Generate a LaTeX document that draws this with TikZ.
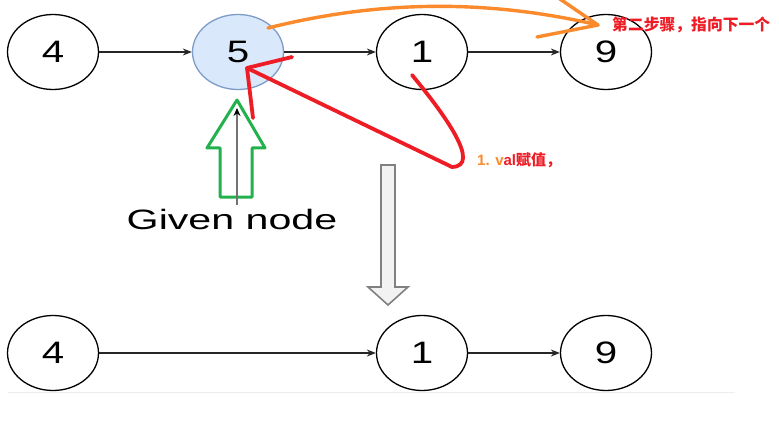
\documentclass[tikz,border=0pt]{standalone}
\usepackage{fontspec}
\setmainfont{Liberation Sans}
\newfontfamily\cjk{Noto Sans CJK SC}
\usetikzlibrary{shapes.geometric,arrows.meta}
\definecolor{nodeblue}{HTML}{DAE8FC}
\definecolor{nodeblueline}{HTML}{7E9CC6}
\definecolor{annred}{HTML}{EE1C25}
\definecolor{annorange}{HTML}{FA8A2C}
\definecolor{anngreen}{HTML}{22B14C}
\definecolor{hollowgray}{HTML}{808080}
\tikzset{
  listnode/.style={ellipse,draw=black,line width=1.3pt,minimum width=91pt,minimum height=75pt,inner sep=0pt,font=\fontsize{31}{31}\selectfont},
  givennode/.style={listnode,fill=nodeblue,draw=nodeblueline},
  link/.style={line width=1.2pt,draw=black!85,-{Stealth[length=9pt,width=7pt]}},
  redstroke/.style={annred,line width=3.8pt,line cap=round,line join=round},
  orangestroke/.style={annorange,line width=3.4pt,line cap=round,line join=round},
}
\begin{document}
\begin{tikzpicture}[x=1pt,y=-1pt]
\useasboundingbox (0,0) rectangle (779,433);
\fill[white] (0,0) rectangle (779,433);
% top row
\node[listnode] (a4) at (53,52) {\scalebox{1.3}[1]{4}};
\node[givennode] (a5) at (238,52) {\scalebox{1.3}[1]{5}};
\node[listnode] (a1) at (422,52) {\scalebox{1.3}[1]{1}};
\node[listnode] (a9) at (606,52) {\scalebox{1.3}[1]{9}};
\draw[link] (a4) -- (a5);
\draw[link] (a5) -- (a1);
\draw[link] (a1) -- (a9);
% bottom row
\node[listnode] (b4) at (53,353) {\scalebox{1.3}[1]{4}};
\node[listnode] (b1) at (422,353) {\scalebox{1.3}[1]{1}};
\node[listnode] (b9) at (606,353) {\scalebox{1.3}[1]{9}};
\draw[link] (b4) -- (b1);
\draw[link] (b1) -- (b9);
\draw[black!7,line width=1pt] (8,392) -- (735,392);
% given node label and arrows
\node[font=\fontsize{28}{28}\selectfont] (given) at (232,219) {\scalebox{1.47}[1]{Given node}};
\draw[anngreen,line width=3pt,line join=round]
  (237,100) -- (265,148) -- (252,148) -- (252,197) -- (220,197) -- (220,148) -- (207,148) -- cycle;
\coordinate (gtail) at (237,205);
\coordinate (ghead) at (237,108);
\draw[black!55,line width=2pt,-{Stealth[length=8pt,width=7pt,black]}] (gtail) -- (ghead);
% hollow down arrow
\draw[hollowgray,fill=black!5,line width=1.6pt,line join=miter]
  (381,165) -- (395,165) -- (395,287) -- (408,287) -- (388,305) -- (368,287) -- (381,287) -- cycle;
% red annotation
\coordinate (rstart) at (412,75);
\coordinate (rturn) at (452,167);
\coordinate (rtip) at (247,68);
\coordinate (rbarbA) at (292,57);
\coordinate (rbarbB) at (253,118);
\draw[redstroke] (rstart) .. controls (445,115) and (482,166) .. (rturn) -- (rtip);
\draw[redstroke] (rbarbA) -- (rtip) -- (rbarbB);
\node[anchor=west,font=\fontsize{15}{15}\selectfont\bfseries,inner sep=0pt] (lab1) at (477,160) {\textcolor{annorange}{1. v}\textcolor{annred}{al\cjk\bfseries 赋值，}};
% orange annotation
\coordinate (ostart) at (268,28);
\coordinate (otip) at (598,25);
\coordinate (obarbA) at (557,-3);
\coordinate (obarbB) at (537,37);
\draw[orangestroke] (ostart) .. controls (360,5) and (470,-5) .. (otip);
\draw[orangestroke] (obarbA) -- (otip) -- (obarbB);
\node[anchor=west,font=\fontsize{15.8}{16}\selectfont\cjk\bfseries,text=annred,inner sep=0pt] (lab2) at (612,25) {第二步骤，指向下一个};
\end{tikzpicture}
\end{document}
